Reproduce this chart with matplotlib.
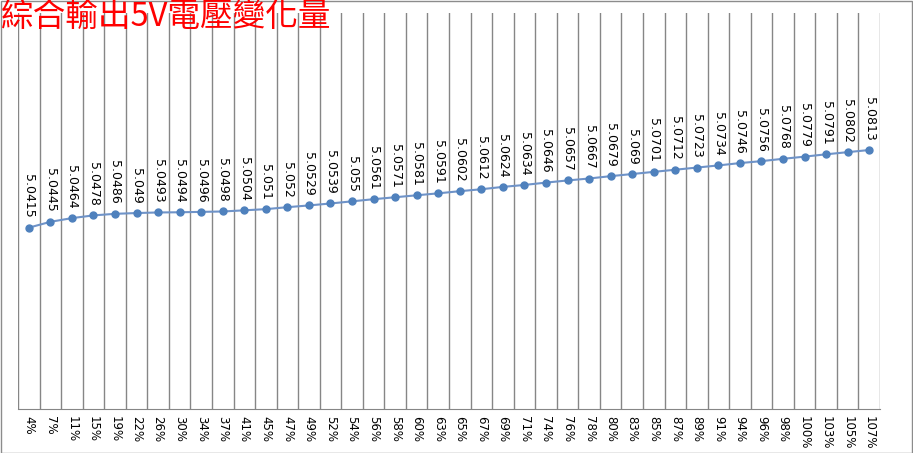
import numpy as np
import matplotlib
matplotlib.use("Agg")
import matplotlib.pyplot as plt
from matplotlib.patches import Rectangle

# load percentages and measured 5V output
loads = ["4%", "7%", "11%", "15%", "19%", "22%", "26%", "30%", "34%", "37%",
         "41%", "45%", "47%", "49%", "52%", "54%", "56%", "58%", "60%", "63%",
         "65%", "67%", "69%", "71%", "74%", "76%", "78%", "80%", "83%", "85%",
         "87%", "89%", "91%", "94%", "96%", "98%", "100%", "103%", "105%", "107%"]
volts = [5.0415, 5.0445, 5.0464, 5.0478, 5.0486, 5.049, 5.0493, 5.0494, 5.0496, 5.0498,
         5.0504, 5.051, 5.052, 5.0529, 5.0539, 5.055, 5.0561, 5.0571, 5.0581, 5.0591,
         5.0602, 5.0612, 5.0624, 5.0634, 5.0646, 5.0657, 5.0667, 5.0679, 5.069, 5.0701,
         5.0712, 5.0723, 5.0734, 5.0746, 5.0756, 5.0768, 5.0779, 5.0791, 5.0802, 5.0813]
title = "綜合輸出5V電壓變化量"

W, H = 913, 453
fig = plt.figure(figsize=(W / 100, H / 100), dpi=100)
fig.patch.set_facecolor("white")
fig.patches.append(Rectangle((0.5 / W, 0.5 / H), 1 - 1.5 / W, 1 - 1.5 / H,
                             transform=fig.transFigure, fill=False,
                             edgecolor="#8c8c8c", linewidth=1))

ax = fig.add_axes([18 / W, (H - 409) / H, (880 - 18) / W, (409 - 13) / H])
x = np.arange(len(loads))
ax.plot(x, volts, color="#6F93C8", linewidth=1.5, zorder=3)
ax.plot(x, volts, linestyle="none", marker="o", markersize=5,
        markerfacecolor="#4F81BD", markeredgecolor="#4F81BD", zorder=4)

for xi, v in zip(x, volts):
    ax.annotate(f"{v:g}", (xi, v), xytext=(0, 7), textcoords="offset points",
                rotation=-90, ha="center", va="bottom", fontsize=9, color="#000000",
                family="DejaVu Sans")

ax.set_xlim(-0.5, len(loads) - 0.5)
ax.set_ylim(4.9486, 5.1515)
ax.set_xticks(x)
ax.set_xticklabels(loads, rotation=-90, fontsize=8.5, va="top", ha="center")
ax.set_xticks(np.arange(-0.5, len(loads)), minor=True)
ax.tick_params(axis="x", which="both", length=0, pad=5)
ax.set_yticks([])
ax.grid(which="minor", axis="x", color="#868686", linewidth=1)
for s in ["top", "right", "left"]:
    ax.spines[s].set_visible(False)
ax.spines["bottom"].set_color("#868686")

fig.text(0.5 / W, 1 - 1 / H, title, color="#FF0000", fontsize=23.5,
         family=["Noto Sans CJK TC", "DejaVu Sans"], ha="left", va="top")

fig.savefig("out.png", dpi=100)
